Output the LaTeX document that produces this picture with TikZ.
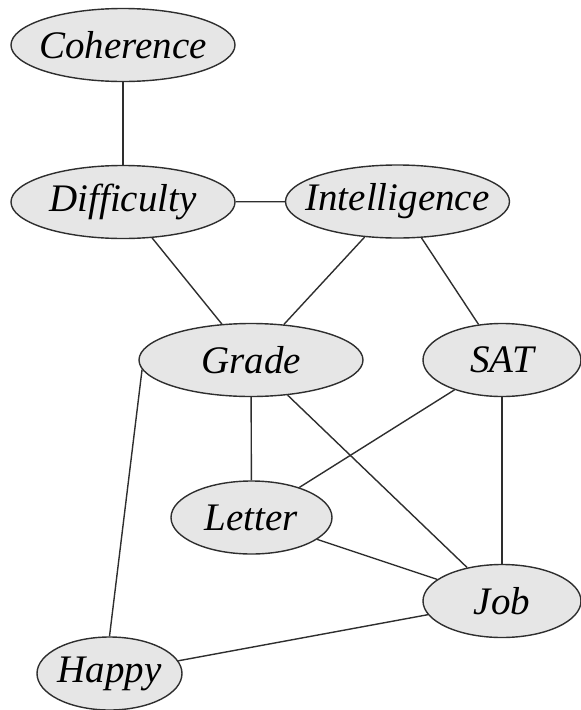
\documentclass[tikz,border=0pt]{standalone}
\usepackage{fontspec}
\setmainfont{Liberation Serif}
\usepackage{xcolor}
\usepackage{tikz}
\usetikzlibrary{shapes.geometric}

\definecolor{varfill}{HTML}{E6E6E6}
\definecolor{varline}{HTML}{2E2E2E}
\newcommand{\vname}[1]{\makebox[0pt]{#1}}

\begin{document}
\begin{tikzpicture}[x=1pt,y=1pt]
                \tikzstyle{var}=[ellipse, draw=varline, line width=1.4pt, fill=varfill, inner sep=0pt,
                    minimum height=73pt, font=\fontsize{39}{42}\selectfont\itshape]
                \tikzstyle{wide}=[var, minimum width=224pt]
                \tikzstyle{narrow}=[var, minimum width=158pt]
                \tikzstyle{link}=[draw=varline, line width=1.4pt]
                \useasboundingbox (0,0) rectangle (581,-710);
                \node [wide] (coh) at (123,-45) {\vname{Coherence}};
                \node [wide] (dif) at (123,-202) {\vname{Difficulty}};
                \node [wide] (int) at (397.5,-201.5) {\vname{Intelligence}};
                \node [wide] (gra) at (251,-360) {\vname{Grade}};
                \node [narrow] (sat) at (502,-360) {\vname{SAT}};
                \node [narrow, minimum width=161pt] (let) at (251.5,-517.5) {\vname{Letter}};
                \node [narrow] (job) at (502,-601) {\vname{Job}};
                \node [narrow, minimum width=145pt] (hap) at (109.5,-673.5) {\vname{Happy}};
                \draw [link] (coh) -- (dif);
                \draw [link] (dif) -- (int);
                \draw [link] (dif) -- (gra);
                \draw [link] (int) -- (gra);
                \draw [link] (int) -- (sat);
                \draw [link] (gra) -- (let);
                \draw [link] (gra) -- (job);
                \draw [link] (gra.185) -- (hap.north);
                \draw [link] (sat) -- (let);
                \draw [link] (sat) -- (job);
                \draw [link] (let) -- (job);
                \draw [link] (job) -- (hap);
\end{tikzpicture}
\end{document}
